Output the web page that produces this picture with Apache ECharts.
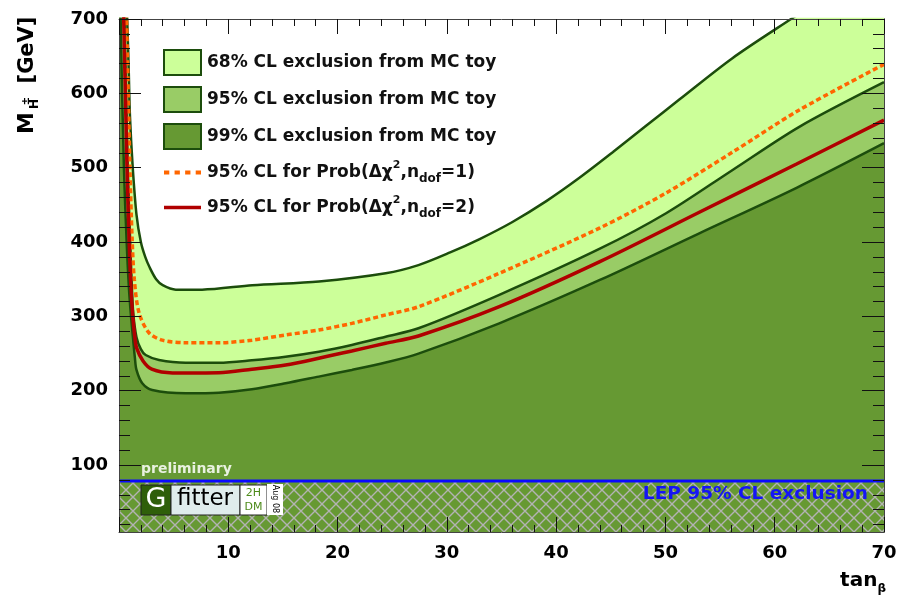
<!DOCTYPE html>
<html>
<head>
<meta charset="utf-8">
<script src="https://cdn.jsdelivr.net/npm/echarts@6/dist/echarts.min.js"></script>
<style>
  html, body { margin: 0; padding: 0; background: #ffffff; }
  #chart { width: 898px; height: 601px; }
</style>
</head>
<body>
<div id="chart"></div>
<script>
// Exclusion contours in the (tan beta, M_H+-) plane, as [tanBeta, mass in GeV] pairs.
// The first point of each contour sits above the visible range so the steep
// low-tan(beta) wall closes the filled region against the top of the frame.
const contour68 = [[0, 2000], [0.5, 810], [0.75, 700], [0.88, 637], [1.0, 570], [1.25, 502], [1.6, 437],
  [2.0, 400], [2.4, 380], [2.8, 366], [3.4, 350], [4.0, 342], [5.2, 336], [7.6, 336], [12.2, 342],
  [18.3, 347], [24.4, 358], [27.4, 369], [30.3, 386], [33.0, 404], [36.0, 427], [39.1, 455],
  [42.1, 486], [45.2, 521], [48.2, 556], [51.3, 592], [56.1, 647], [61.6, 701], [70, 782]];

const contour95 = [[0, 2000], [0.3, 810], [0.5, 700], [0.8, 500], [1.0, 410], [1.15, 350], [1.3, 305],
  [1.6, 272], [2.0, 256], [2.44, 248], [3.66, 241.4], [6.1, 237.7], [9.14, 237.7], [12.16, 241],
  [15.24, 245.8], [18.28, 252.5], [21.3, 261.5], [24.4, 272.7], [27.4, 284], [34.8, 329], [44.0, 391],
  [50.06, 438.7], [56.15, 497], [62.25, 555], [70, 615]];

const contour99 = [[0, 900], [0.15, 700], [0.45, 500], [0.7, 400], [0.9, 340], [1.1, 300], [1.3, 268],
  [1.45, 245], [1.6, 228], [2.13, 210], [3.04, 201], [6.1, 196.6], [9.14, 197.4], [12.16, 202],
  [15.24, 210], [18.28, 219], [21.3, 228], [24.4, 238], [27.4, 250], [34.8, 290.7], [44.0, 349],
  [53.1, 411.8], [62, 473], [70, 533]];

// 95% CL curves from the chi-square probability with one and two degrees of freedom
const chi2Ndof1 = [[0, 2000], [0.45, 810], [0.69, 700], [1.0, 500], [1.2, 405], [1.4, 350], [1.83, 305],
  [2.74, 278], [3.96, 268], [6.1, 264.6], [9.14, 264.6], [12.16, 268], [15.24, 275], [18.28, 281.7],
  [21.3, 290.6], [24.4, 302], [27.4, 313], [34.8, 358], [44.0, 419], [50.06, 466], [56.15, 521],
  [62.25, 577.6], [70, 639]];

const chi2Ndof2 = [[0, 2000], [0.2, 810], [0.43, 700], [0.73, 500], [0.93, 400], [1.07, 345], [1.25, 302],
  [1.45, 272], [1.6, 258], [2.2, 240], [3.0, 229], [4.9, 224], [9.14, 224.3], [12.16, 229], [15.24, 234.6],
  [18.28, 243.6], [21.3, 253.5], [24.4, 263.8], [27.4, 273.6], [34.8, 313], [44.0, 373.6], [53.1, 440],
  [62, 505], [70, 564]];

// LEP direct search lower limit on the charged Higgs mass (GeV)
const lepLimit = 78.6;
const tanBetaRange = [0, 70];
const massRange = [10, 700];

// Axis tick positions
const massMajorTicks = [100, 200, 300, 400, 500, 600, 700];
const massMinorTicks = [20, 40, 60, 80, 120, 140, 160, 180, 220, 240, 260, 280, 320, 340, 360, 380,
  420, 440, 460, 480, 520, 540, 560, 580, 620, 640, 660, 680];

const names = {
  c68: '68% CL exclusion from MC toy',
  c95: '95% CL exclusion from MC toy',
  c99: '99% CL exclusion from MC toy',
  n1: '95% CL for Prob(Δχ2,ndof=1)',
  n2: '95% CL for Prob(Δχ2,ndof=2)'
};

const FONT = 'DejaVu Sans';
const EDGE = '#1c4d0c';
const LIGHT = '#ccff99';
const MEDIUM = '#99cc66';
const DARK = '#669933';

// cross-hatch tile for the LEP-excluded band
function hatchTile() {
  const s = 14;
  const c = document.createElement('canvas');
  c.width = s; c.height = s;
  const g = c.getContext('2d');
  g.fillStyle = DARK;
  g.fillRect(0, 0, s, s);
  g.strokeStyle = '#b3b3b3';
  g.lineWidth = 1.4;
  g.beginPath();
  g.moveTo(0, 0); g.lineTo(s, s);
  g.moveTo(s, 0); g.lineTo(0, s);
  g.stroke();
  return c;
}

function contour(name, data, fill, z) {
  return {
    name, type: 'line', data, z,
    smooth: 0.3,
    symbol: 'none', showSymbol: false, silent: true,
    lineStyle: { color: EDGE, width: 2.5 },
    itemStyle: { color: fill },
    areaStyle: { color: fill, opacity: 1, origin: 'start' },
    emphasis: { disabled: true }
  };
}

function curve(name, data, color, type, z) {
  return {
    name, type: 'line', data, z,
    smooth: 0.3,
    symbol: 'none', showSymbol: false, silent: true,
    lineStyle: { color, width: 3.5, type },
    itemStyle: { color },
    emphasis: { disabled: true }
  };
}

const tickFont = { fontFamily: FONT, fontWeight: 'bold', fontSize: 18, color: '#000' };

function massAxis(position, ticks, len, labels) {
  return {
    type: 'value', position, min: massRange[0], max: massRange[1], z: 10,
    axisLine: { show: true, lineStyle: { color: '#444', width: 1 } },
    axisTick: { show: true, inside: true, length: len, customValues: ticks, lineStyle: { color: '#111', width: 1 } },
    axisLabel: labels ? Object.assign({ show: true, margin: 11, customValues: ticks }, tickFont) : { show: false },
    splitLine: { show: false }
  };
}

function tanAxis(position, labels) {
  return {
    type: 'value', position, min: tanBetaRange[0], max: tanBetaRange[1], interval: 10, z: 10,
    axisLine: { show: true, lineStyle: { color: '#444', width: 1 } },
    axisTick: { show: true, inside: true, length: 15, lineStyle: { color: '#111', width: 1 } },
    minorTick: { show: true, splitNumber: 5, length: 7, lineStyle: { color: '#111', width: 1 } },
    axisLabel: labels ? Object.assign({
      show: true, margin: 12,
      formatter: v => (v === 0 ? '' : String(v))
    }, tickFont) : { show: false },
    splitLine: { show: false },
    minorSplitLine: { show: false }
  };
}

const legendRich = {
  t: { fontFamily: FONT, fontWeight: 'bold', fontSize: 17, color: '#111', lineHeight: 25 },
  sup: { fontFamily: FONT, fontWeight: 'bold', fontSize: 11, color: '#111', lineHeight: 25, verticalAlign: 'top', padding: [0, 0, 6, 0] },
  sub: { fontFamily: FONT, fontWeight: 'bold', fontSize: 12, color: '#111', lineHeight: 25, verticalAlign: 'bottom', padding: [10, 0, 0, 0] }
};

const legendText = {};
legendText[names.n1] = '{t|95% CL for Prob(Δχ}{sup|2}{t|,n}{sub|dof}{t|=1)}';
legendText[names.n2] = '{t|95% CL for Prob(Δχ}{sup|2}{t|,n}{sub|dof}{t|=2)}';

const titleBold = { fontFamily: FONT, fontWeight: 'bold', fill: '#000', align: 'center', verticalAlign: 'middle' };

const chart = echarts.init(document.getElementById('chart'), null, { renderer: 'canvas' });

chart.setOption({
  animation: false,
  backgroundColor: '#ffffff',
  textStyle: { fontFamily: FONT },
  grid: { left: 119, right: 14, top: 19, bottom: 69, containLabel: false, outerBoundsMode: 'none' },
  xAxis: [tanAxis('bottom', true), tanAxis('top', false)],
  yAxis: [
    massAxis('left', massMajorTicks, 22, true),
    massAxis('left', massMinorTicks, 11, false),
    massAxis('right', massMajorTicks, 22, false),
    massAxis('right', massMinorTicks, 11, false)
  ],
  legend: {
    orient: 'vertical', left: 163, top: 49, padding: 0,
    itemGap: 10, itemWidth: 37, itemHeight: 25,
    selectedMode: false, symbolKeepAspect: true,
    textStyle: { fontFamily: FONT, fontWeight: 'bold', fontSize: 17, color: '#111', lineHeight: 25, padding: [0, 0, 0, 1], rich: legendRich },
    formatter: name => legendText[name] || name,
    data: [
      { name: names.c68, icon: 'rect', itemStyle: { color: LIGHT, borderColor: EDGE, borderWidth: 2 } },
      { name: names.c95, icon: 'rect', itemStyle: { color: MEDIUM, borderColor: EDGE, borderWidth: 2 } },
      { name: names.c99, icon: 'rect', itemStyle: { color: DARK, borderColor: EDGE, borderWidth: 2 } },
      { name: names.n1, icon: 'path://M0,0h5v4h-5z M10,0h5v4h-5z M20,0h5v4h-5z M30,0h5v4h-5z', itemStyle: { color: '#ff6600', borderWidth: 0 } },
      { name: names.n2, icon: 'path://M0,0h36v3.6h-36z', itemStyle: { color: '#b00000', borderWidth: 0 } }
    ]
  },
  series: [
    contour(names.c68, contour68, LIGHT, 2),
    contour(names.c95, contour95, MEDIUM, 3),
    contour(names.c99, contour99, DARK, 4),
    {
      name: 'LEP', type: 'line', z: 5, silent: true,
      data: [[tanBetaRange[0], lepLimit], [tanBetaRange[1], lepLimit]],
      symbol: 'none', showSymbol: false,
      lineStyle: { color: '#0a0aff', width: 3 },
      areaStyle: { color: { image: hatchTile(), repeat: 'repeat' }, opacity: 1, origin: 'start' },
      emphasis: { disabled: true }
    },
    curve(names.n1, chi2Ndof1, '#ff6600', [5, 3], 6),
    curve(names.n2, chi2Ndof2, '#b00000', 'solid', 7)
  ],
  graphic: [
    // vertical axis title: M with H-plus-minus subscript, then the unit
    { type: 'text', x: 28, y: 50, rotation: Math.PI / 2, z: 100, silent: true,
      style: Object.assign({ text: '[GeV]', fontSize: 21 }, titleBold) },
    { type: 'text', x: 27, y: 123, rotation: Math.PI / 2, z: 100, silent: true,
      style: Object.assign({ text: 'M', fontSize: 22 }, titleBold) },
    { type: 'text', x: 35, y: 104, rotation: Math.PI / 2, z: 100, silent: true,
      style: Object.assign({ text: 'H', fontSize: 12 }, titleBold) },
    { type: 'text', x: 26, y: 101, rotation: Math.PI / 2, z: 100, silent: true,
      style: Object.assign({ text: '±', fontSize: 10 }, titleBold) },
    {
      type: 'text', x: 886, y: 581, z: 100, silent: true,
      style: {
        text: '{m|tan}{s|β}',
        align: 'right', verticalAlign: 'middle',
        rich: {
          m: { fontFamily: FONT, fontWeight: 'bold', fontSize: 20, fill: '#000', lineHeight: 28 },
          s: { fontFamily: FONT, fontWeight: 'bold', fontSize: 12, fill: '#000', lineHeight: 28, verticalAlign: 'bottom', padding: [10, 0, 0, 0] }
        }
      }
    },
    {
      type: 'text', x: 141, y: 469, z: 100, silent: true,
      style: { text: 'preliminary', fontFamily: FONT, fontWeight: 'bold', fontSize: 14, fill: '#e9f1e0', align: 'left', verticalAlign: 'middle' }
    },
    {
      type: 'text', x: 868, y: 494, z: 100, silent: true,
      style: { text: 'LEP 95% CL exclusion', fontFamily: FONT, fontWeight: 'bold', fontSize: 18.5, fill: '#1515f5', align: 'right', verticalAlign: 'middle' }
    },
    // Gfitter logo
    { type: 'rect', z: 100, silent: true, shape: { x: 141, y: 485, width: 30, height: 30 }, style: { fill: '#2f5f0a', stroke: '#222', lineWidth: 1 } },
    { type: 'text', z: 101, silent: true, x: 156, y: 500, style: { text: 'G', fontFamily: FONT, fontSize: 27, fill: '#ffffff', align: 'center', verticalAlign: 'middle' } },
    { type: 'rect', z: 100, silent: true, shape: { x: 171, y: 485, width: 69, height: 30 }, style: { fill: '#dfecec', stroke: '#222', lineWidth: 1 } },
    { type: 'text', z: 101, silent: true, x: 205, y: 499, style: { text: 'fitter', fontFamily: FONT, fontSize: 23, fill: '#000', align: 'center', verticalAlign: 'middle' } },
    { type: 'rect', z: 100, silent: true, shape: { x: 240, y: 485, width: 27, height: 30 }, style: { fill: '#ffffff', stroke: '#222', lineWidth: 1 } },
    { type: 'text', z: 101, silent: true, x: 253.5, y: 493, style: { text: '2H', fontFamily: FONT, fontSize: 11, fill: '#4d8a1a', align: 'center', verticalAlign: 'middle' } },
    { type: 'text', z: 101, silent: true, x: 253.5, y: 507, style: { text: 'DM', fontFamily: FONT, fontSize: 11, fill: '#4d8a1a', align: 'center', verticalAlign: 'middle' } },
    { type: 'rect', z: 100, silent: true, shape: { x: 267, y: 484, width: 16, height: 31 }, style: { fill: '#ffffff' } },
    { type: 'text', z: 101, silent: true, x: 275, y: 499, rotation: -Math.PI / 2, style: { text: 'Aug 08', fontFamily: FONT, fontSize: 8, fill: '#000', align: 'center', verticalAlign: 'middle' } }
  ]
});
</script>
</body>
</html>
